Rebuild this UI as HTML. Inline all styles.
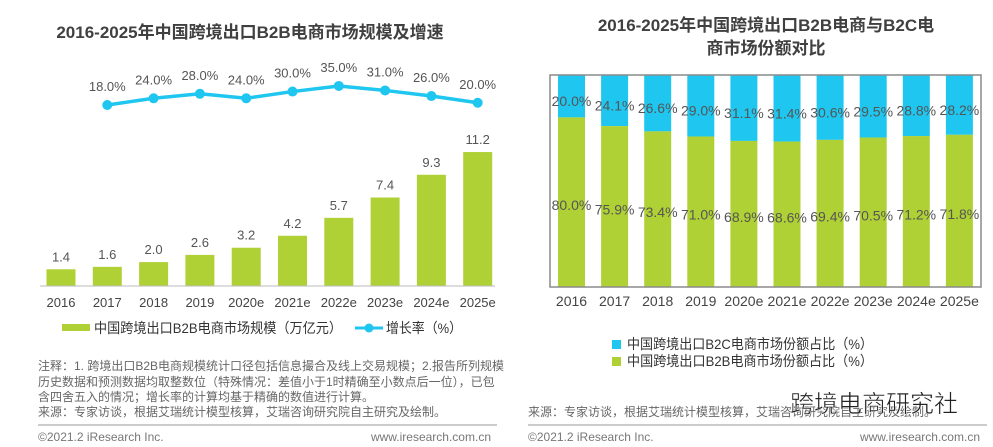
<!DOCTYPE html>
<html><head><meta charset="utf-8">
<style>
body{margin:0;width:993px;height:447px;background:#fff;overflow:hidden;font-family:"Liberation Sans","Noto Sans CJK SC",sans-serif;}
svg{position:absolute;left:0;top:0}
</style></head>
<body>
<svg width="993" height="447" id="root">
<text x="250" y="38" text-anchor="middle" font-size="17" font-weight="bold" fill="#404040">2016-2025年中国跨境出口B2B电商市场规模及增速</text>
<text x="766" y="31" text-anchor="middle" font-size="17" font-weight="bold" fill="#404040">2016-2025年中国跨境出口B2B电商与B2C电</text>
<text x="766" y="54" text-anchor="middle" font-size="17" font-weight="bold" fill="#404040">商市场份额对比</text>
<g id="left"></g>
<g id="right"></g>
<line x1="40" y1="286" x2="495" y2="286" stroke="#bbb" stroke-width="1"/>
<rect x="550" y="75" width="431" height="212" fill="none" stroke="#8a8a8a" stroke-width="1.5"/>
<rect x="62" y="324" width="28" height="7" fill="#b0d136"/>
<text x="94" y="333" font-size="14" fill="#333" textLength="248" lengthAdjust="spacingAndGlyphs">中国跨境出口B2B电商市场规模（万亿元）</text>
<line x1="355" y1="328" x2="383" y2="328" stroke="#1fc6f0" stroke-width="3"/>
<circle cx="369" cy="328" r="4.5" fill="#1fc6f0"/>
<text x="386" y="333" font-size="14" fill="#333" textLength="76" lengthAdjust="spacingAndGlyphs">增长率（%）</text>
<g font-size="12" fill="#666">
<text x="38" y="370">注释：1. 跨境出口B2B电商规模统计口径包括信息撮合及线上交易规模；2.报告所列规模</text>
<text x="38" y="386">历史数据和预测数据均取整数位（特殊情况：差值小于1时精确至小数点后一位），已包</text>
<text x="38" y="401">含四舍五入的情况；增长率的计算均基于精确的数值进行计算。</text>
<text x="38" y="416">来源：专家访谈，根据艾瑞统计模型核算，艾瑞咨询研究院自主研究及绘制。</text>
<text x="528" y="416">来源：专家访谈，根据艾瑞统计模型核算，艾瑞咨询研究院自主研究及绘制。</text>
</g>
<line x1="38" y1="425" x2="497" y2="425" stroke="#999"/>
<line x1="528" y1="425" x2="987" y2="425" stroke="#999"/>
<g font-size="12" fill="#777">
<text x="38" y="441">©2021.2 iResearch Inc.</text>
<text x="491" y="441" text-anchor="end">www.iresearch.com.cn</text>
<text x="528" y="441">©2021.2 iResearch Inc.</text>
<text x="980" y="441" text-anchor="end">www.iresearch.com.cn</text>
</g>
<rect x="612" y="340" width="9" height="9" fill="#1fc6f0"/>
<text x="627" y="349" font-size="14" fill="#333" textLength="246" lengthAdjust="spacingAndGlyphs">中国跨境出口B2C电商市场份额占比（%）</text>
<rect x="612" y="357" width="9" height="9" fill="#b0d136"/>
<text x="627" y="366" font-size="14" fill="#333" textLength="246" lengthAdjust="spacingAndGlyphs">中国跨境出口B2B电商市场份额占比（%）</text>
<text x="790" y="412" font-size="24" fill="#222" stroke="#fff" stroke-width="0.5">跨境电商研究社</text>
</svg>
<script>
const years=["2016","2017","2018","2019","2020e","2021e","2022e","2023e","2024e","2025e"];
const sizeVals=[1.4,1.6,2.0,2.6,3.2,4.2,5.7,7.4,9.3,11.2];
const growthVals=[18.0,24.0,28.0,24.0,30.0,35.0,31.0,26.0,20.0];
const b2cShare=[20.0,24.1,26.6,29.0,31.1,31.4,30.6,29.5,28.8,28.2];
const b2bShare=[80.0,75.9,73.4,71.0,68.9,68.6,69.4,70.5,71.2,71.8];
const NS="http://www.w3.org/2000/svg";
function mk(tag,attrs,parent,txt){const e=document.createElementNS(NS,tag);for(const k in attrs)e.setAttribute(k,attrs[k]);if(txt!==undefined)e.textContent=txt;parent.appendChild(e);return e;}
const L=document.getElementById('left');
const lx=i=>61+i*46.3;
const ly=v=>286-v*11.96;
const gy=v=>105-(v-18)*1.12;
years.forEach((y,i)=>{
  const r=mk('rect',{x:lx(i)-14.5,y:ly(sizeVals[i]),width:29,height:286-ly(sizeVals[i]),fill:'#b0d136'},L);
  
  
  const t=mk('text',{x:lx(i),y:ly(sizeVals[i])-8,'text-anchor':'middle','font-size':13,fill:'#555'},L,sizeVals[i].toFixed(1));
  
  
  const xt=mk('text',{x:lx(i),y:307,'text-anchor':'middle','font-size':13,fill:'#444'},L,y);
  
  
});
const gx=i=>lx(i+1);
const pts=growthVals.map((v,i)=>gx(i)+','+gy(v)).join(' ');
const pl=mk('polyline',{points:pts,fill:'none',stroke:'#1fc6f0','stroke-width':3.5},L);


growthVals.forEach((v,i)=>{
  const c=mk('circle',{cx:gx(i),cy:gy(v),r:5,fill:'#1fc6f0'},L);
  
  
  const t=mk('text',{x:gx(i),y:gy(v)-14,'text-anchor':'middle','font-size':13,fill:'#555'},L,v.toFixed(1)+'%');
  
  
});
const R=document.getElementById('right');
const rx=i=>571.5+i*43.1;
const plotTop=75,plotH=212;
const ry=p=>plotTop+p/100*plotH;
years.forEach((y,i)=>{
  const bTop=ry(b2cShare[i]);
  const b=mk('rect',{x:rx(i)-13.5,y:plotTop,width:27,height:bTop-plotTop,fill:'#1fc6f0'},R);
  
  
  const g=mk('rect',{x:rx(i)-13.5,y:bTop,width:27,height:plotTop+plotH-bTop,fill:'#b0d136'},R);
  
  
  const t1=mk('text',{x:rx(i),y:(plotTop+bTop)/2+10,'text-anchor':'middle','font-size':14,fill:'#555'},R,b2cShare[i].toFixed(1)+'%');
  
  
  const t2=mk('text',{x:rx(i),y:(bTop+plotTop+plotH)/2+8,'text-anchor':'middle','font-size':14,fill:'#555'},R,b2bShare[i].toFixed(1)+'%');
  
  
  const xt=mk('text',{x:rx(i),y:306,'text-anchor':'middle','font-size':14,fill:'#444'},R,y);
  
  
});
</script>
</body></html>
